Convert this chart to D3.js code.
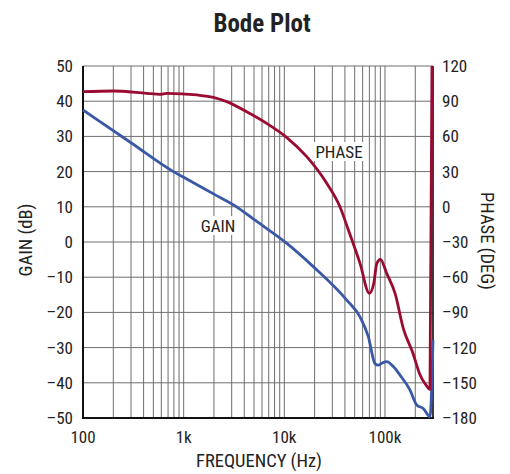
<!DOCTYPE html>
<html>
<head>
<style>
  body { margin: 0; background: #fff; }
  text { font-family: "Liberation Sans Narrow", "Roboto Condensed", "Liberation Sans", Arial, sans-serif; fill: #222; }
</style>
</head>
<body>
<div id="chart"></div>
<script src="https://d3js.org/d3.v7.min.js"></script>
<script>
// frequency ticks
var freqTicks = [100, 1000, 10000, 100000]
var freqLabels = ["100", "1k", "10k", "100k"]
var gainTicks = [50, 40, 30, 20, 10, 0, -10, -20, -30, -40, -50]
var phaseTicks = [120, 90, 60, 30, 0, -30, -60, -90, -120, -150, -180]

// gain curve (Hz, dB)
var gainFreq = [100, 300, 790, 1000, 2000, 3360, 5000, 10600, 19400, 41700, 56500, 68300, 79400, 85500, 95000, 104000, 121000, 141000, 177000, 207000, 240000, 280000, 300000]
var gainDb   = [37.5, 28.2, 20, 18.4, 13.6, 10, 6.4, -0.4, -7, -16.5, -21.3, -26.9, -34.5, -35, -34.3, -34, -35.4, -37.8, -42, -46.3, -47.3, -49.6, -27.8]

// phase curve (Hz, deg)
var phaseFreq = [100, 200, 430, 582, 678, 1350, 1970, 2680, 4230, 6680, 10600, 16700, 26400, 35700, 43300, 56500, 70000, 77400, 83000, 90000, 104000, 126000, 152000, 190000, 220000, 256000, 280000, 293000]
var phaseDeg  = [98.1, 98.7, 96.7, 95.9, 96.7, 95.3, 93.3, 89.6, 81, 71.1, 59, 42.7, 20, 0, -19.8, -48.2, -73.8, -65.2, -48.2, -44.8, -56.7, -73.8, -103.6, -125, -142, -152, -155.6, 120]

var width = 510, height = 474
var pl = 83, pr = 433, pt = 66, pb = 418

var svg = d3.select("#chart").append("svg")
  .attr("width", width)
  .attr("height", height)

var x = d3.scaleLog().domain([100, 300000]).range([pl, pr])
var yG = d3.scaleLinear().domain([-50, 50]).range([pb, pt])
var yP = d3.scaleLinear().domain([-180, 120]).range([pb, pt])

// minor + major vertical grid
var vlines = []
for (var d = 100; d <= 100000; d *= 10) {
  for (var k = 1; k <= 9; k++) {
    var f = d * k
    if (f > 300000) break
    vlines.push(f)
  }
}

svg.append("g").selectAll("line").data(vlines).enter().append("line")
  .attr("x1", function(f) { return x(f) }).attr("x2", function(f) { return x(f) })
  .attr("y1", pt).attr("y2", pb)
  .attr("stroke", "#6e6e6e").attr("stroke-width", 1)

svg.append("g").selectAll("line").data(gainTicks).enter().append("line")
  .attr("x1", pl).attr("x2", pr)
  .attr("y1", function(v) { return yG(v) }).attr("y2", function(v) { return yG(v) })
  .attr("stroke", "#6e6e6e").attr("stroke-width", 1)

// axes frame
svg.append("line").attr("x1", pl).attr("x2", pl).attr("y1", pt).attr("y2", pb + 1)
  .attr("stroke", "#111").attr("stroke-width", 2)
svg.append("line").attr("x1", pl).attr("x2", pr + 1).attr("y1", pb).attr("y2", pb)
  .attr("stroke", "#111").attr("stroke-width", 2)
svg.append("line").attr("x1", pr).attr("x2", pr).attr("y1", pt).attr("y2", pb)
  .attr("stroke", "#111").attr("stroke-width", 1.5)

// curve labels with white background
function boxLabel(txt, cx, cy, w) {
  svg.append("rect").attr("x", cx - w / 2).attr("y", cy - 10).attr("width", w).attr("height", 19).attr("fill", "#fff")
  svg.append("text").attr("x", cx).attr("y", cy + 6).attr("text-anchor", "middle")
    .style("font-size", "17px").text(txt)
}
boxLabel("PHASE", 339, 152, 56)
boxLabel("GAIN", 218, 226, 42)

var line = d3.line().curve(d3.curveMonotoneX)

svg.append("path")
  .attr("d", line(gainFreq.map(function(f, i) { return [x(f), yG(gainDb[i])] })))
  .attr("fill", "none").attr("stroke", "#3a58a6").attr("stroke-width", 2.8)
  .attr("stroke-linejoin", "round")

svg.append("path")
  .attr("d", line(phaseFreq.map(function(f, i) { return [x(f), yP(phaseDeg[i])] })))
  .attr("fill", "none").attr("stroke", "#9a0b32").attr("stroke-width", 2.8)
  .attr("stroke-linejoin", "round")

// tick labels
svg.append("g").selectAll("text").data(gainTicks).enter().append("text")
  .attr("x", pl - 10).attr("y", function(v) { return yG(v) + 6 })
  .attr("text-anchor", "end").style("font-size", "17px")
  .text(function(v) { return v < 0 ? "\u2013" + (-v) : v })

svg.append("g").selectAll("text").data(phaseTicks).enter().append("text")
  .attr("x", pr + 9).attr("y", function(v) { return yP(v) + 6 })
  .attr("text-anchor", "start").style("font-size", "17px")
  .text(function(v) { return v < 0 ? "\u2013" + (-v) : v })

svg.append("g").selectAll("text").data(freqTicks).enter().append("text")
  .attr("x", function(f) { return x(f) }).attr("y", pb + 25)
  .attr("text-anchor", "middle").style("font-size", "17px")
  .text(function(f, i) { return freqLabels[i] })

// titles
svg.append("text").attr("x", 262).attr("y", 32).attr("text-anchor", "middle")
  .style("font-size", "25px").style("font-weight", "bold").text("Bode Plot")

svg.append("text").attr("x", 259).attr("y", 467).attr("text-anchor", "middle")
  .style("font-size", "18.5px").text("FREQUENCY (Hz)")

svg.append("text").attr("transform", "translate(32,240) rotate(-90)")
  .attr("text-anchor", "middle").style("font-size", "18.5px").text("GAIN (dB)")

svg.append("text").attr("transform", "translate(481,241) rotate(90)")
  .attr("text-anchor", "middle").style("font-size", "18.5px").text("PHASE (DEG)")
</script>
</body>
</html>
